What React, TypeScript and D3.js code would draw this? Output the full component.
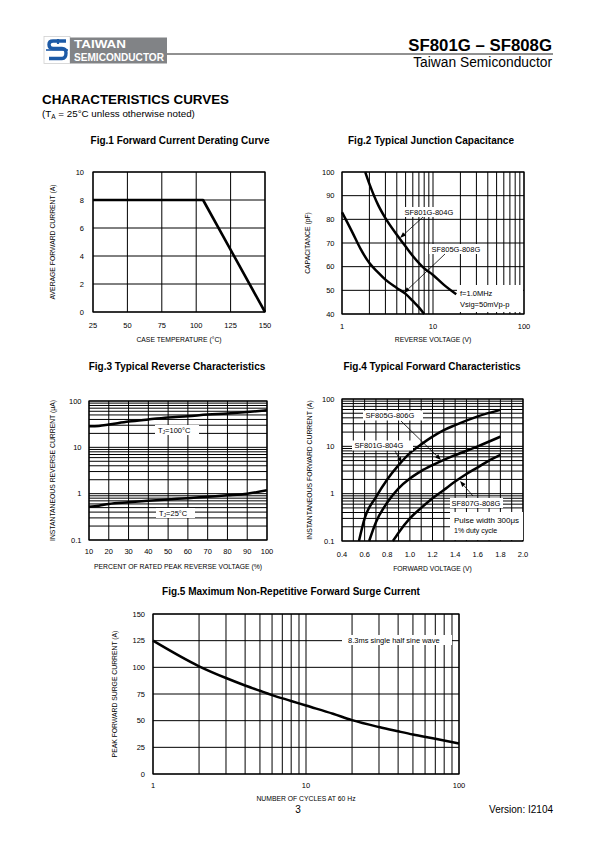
import React from 'react';
import * as d3 from 'd3';

const FONT = "'Liberation Sans', Arial, Helvetica, sans-serif";

// ---------- Fig.1 data ----------
const fig1TempTicks = [25, 50, 75, 100, 125, 150];
const fig1CurrentTicks = [0, 2, 4, 6, 8, 10];
const fig1Temp = [25, 105, 150];
const fig1Current = [8, 8, 0];

// ---------- Fig.2 data ----------
const fig2VoltTicks = [1, 10, 100];
const fig2CapTicks = [40, 50, 60, 70, 80, 90, 100];
const fig2VoltA = [1.8, 2, 2.5, 3, 4, 5, 6, 8, 10, 13, 18];
const fig2CapA = [100, 95, 86, 80.5, 73.5, 68.5, 64.5, 59.3, 56.5, 52.5, 48.3];
const fig2VoltB = [1, 1.3, 1.6, 2, 2.5, 3, 4, 5, 6, 7, 8];
const fig2CapB = [83, 74.5, 67.5, 61.5, 57.5, 54.5, 51, 48.5, 45.5, 42.8, 40];

// ---------- Fig.3 data ----------
const fig3PctTicks = [10, 20, 30, 40, 50, 60, 70, 80, 90, 100];
const fig3CurTicks = [0.1, 1, 10, 100];
const fig3Pct = [10, 15, 20, 30, 40, 50, 60, 70, 80, 90, 100];
const fig3Cur100 = [28.5, 29, 31, 36, 40, 44, 47, 51, 54, 58, 63];
const fig3Cur25 = [0.52, 0.55, 0.6, 0.65, 0.7, 0.75, 0.8, 0.86, 0.92, 1.0, 1.18];

// ---------- Fig.4 data ----------
const fig4VoltTicks = [0.4, 0.6, 0.8, 1.0, 1.2, 1.4, 1.6, 1.8, 2.0];
const fig4CurTicks = [0.1, 1, 10, 100];
const fig4VoltA = [0.55, 0.6, 0.7, 0.8, 0.9, 1.0, 1.1, 1.2, 1.3, 1.4, 1.6, 1.8];
const fig4CurA = [0.1, 0.3, 0.85, 2.0, 4.0, 7.2, 11, 16, 22, 28, 43, 59];
const fig4VoltB = [0.64, 0.7, 0.8, 0.9, 1.0, 1.1, 1.2, 1.3, 1.4, 1.6, 1.8];
const fig4CurB = [0.1, 0.25, 0.65, 1.3, 2.1, 3.0, 4.0, 5.2, 6.5, 10, 16];
const fig4VoltC = [0.85, 0.9, 1.0, 1.1, 1.2, 1.3, 1.4, 1.5, 1.6, 1.7, 1.8];
const fig4CurC = [0.1, 0.15, 0.3, 0.5, 0.8, 1.2, 1.8, 2.6, 3.6, 5, 6.6];

// ---------- Fig.5 data ----------
const fig5CycleTicks = [1, 10, 100];
const fig5SurgeTicks = [0, 25, 50, 75, 100, 125, 150];
const fig5Cycles = [1, 2, 3, 4, 5, 6, 8, 10, 15, 20, 30, 40, 50, 70, 100];
const fig5Surge = [125, 101, 90, 83, 78, 74, 68.5, 64.2, 56.5, 50.5, 44, 40, 37, 33, 28.5];

type Pt = [number, number];
const zip = (a: number[], b: number[]): Pt[] => a.map((v, i) => [v, b[i]] as Pt);

function logGrid(lo: number, hi: number): number[] {
  const out: number[] = [];
  for (let d = lo; d < hi * 0.999; d *= 10) {
    for (let k = 1; k < 10; k++) out.push(d * k);
  }
  out.push(hi);
  return out;
}

type Frame = { left: number; top: number; width: number; height: number };

function Grid({ f, xs, ys, xGrid, yGrid }: { f: Frame; xs: any; ys: any; xGrid: number[]; yGrid: number[] }) {
  return (
    <g>
      {xGrid.map((v, i) => (
        <line key={'x' + i} x1={xs(v)} x2={xs(v)} y1={f.top} y2={f.top + f.height} stroke="#000" strokeWidth={1} />
      ))}
      {yGrid.map((v, i) => (
        <line key={'y' + i} x1={f.left} x2={f.left + f.width} y1={ys(v)} y2={ys(v)} stroke="#000" strokeWidth={1} />
      ))}
      <rect x={f.left} y={f.top} width={f.width} height={f.height} fill="none" stroke="#000" strokeWidth={1.2} />
    </g>
  );
}

function Axes({
  f, xs, ys, xTicks, yTicks, xFmt, yFmt, xLabelDy, yLabelDx, xTitle, yTitle, xTitleDy, yTitleDx, title, titleY, titleX,
}: any) {
  return (
    <g fontFamily={FONT} fill="#000">
      {xTicks.map((v: number, i: number) => (
        <text key={'xt' + i} x={xs(v)} y={f.top + f.height + xLabelDy} fontSize={7.5} textAnchor="middle">
          {xFmt(v)}
        </text>
      ))}
      {yTicks.map((v: number, i: number) => (
        <text key={'yt' + i} x={f.left - yLabelDx} y={ys(v)} dy="0.35em" fontSize={7.5} textAnchor="end">
          {yFmt(v)}
        </text>
      ))}
      <text x={f.left + f.width / 2} y={f.top + f.height + xTitleDy} fontSize={6.8} textAnchor="middle">
        {xTitle}
      </text>
      <text
        transform={`translate(${f.left - yTitleDx},${f.top + f.height / 2}) rotate(-90)`}
        fontSize={6.8}
        textAnchor="middle"
        dy="0.35em"
      >
        {yTitle}
      </text>
      <text x={titleX} y={titleY} fontSize={10} fontWeight="bold" textAnchor="middle">
        {title}
      </text>
    </g>
  );
}

function Curve({ pts, xs, ys, w = 2.5, linear = false }: { pts: Pt[]; xs: any; ys: any; w?: number; linear?: boolean }) {
  const gen = d3
    .line<Pt>()
    .x((d) => xs(d[0]))
    .y((d) => ys(d[1]))
    .curve(linear ? d3.curveLinear : d3.curveMonotoneX);
  return <path d={gen(pts) || ''} fill="none" stroke="#000" strokeWidth={w} strokeLinejoin="round" />;
}

function LabelBox({ x, y, w, h, lines }: { x: number; y: number; w: number; h: number; lines: { t: any; dy: number; dx?: number; size?: number }[] }) {
  return (
    <g fontFamily={FONT}>
      <rect x={x} y={y} width={w} height={h} fill="#fff" />
      {lines.map((l, i) => (
        <text key={i} x={x + (l.dx ?? 3)} y={y + l.dy} fontSize={l.size ?? 7.5}>
          {l.t}
        </text>
      ))}
    </g>
  );
}

function Arrow({ x1, y1, x2, y2 }: { x1: number; y1: number; x2: number; y2: number }) {
  const ang = Math.atan2(y2 - y1, x2 - x1);
  const L = 6;
  const W = 2.2;
  const bx = x2 - L * Math.cos(ang);
  const by = y2 - L * Math.sin(ang);
  const px = -Math.sin(ang) * W;
  const py = Math.cos(ang) * W;
  return (
    <g>
      <line x1={x1} y1={y1} x2={bx} y2={by} stroke="#000" strokeWidth={0.8} />
      <polygon points={`${x2},${y2} ${bx + px},${by + py} ${bx - px},${by - py}`} fill="#000" />
    </g>
  );
}

export default function App() {
  // Fig.1
  const f1: Frame = { left: 93, top: 172, width: 172, height: 140 };
  const x1 = d3.scaleLinear().domain([25, 150]).range([f1.left, f1.left + f1.width]);
  const y1 = d3.scaleLinear().domain([0, 10]).range([f1.top + f1.height, f1.top]);

  // Fig.2
  const f2: Frame = { left: 342, top: 172, width: 182, height: 142 };
  const x2 = d3.scaleLog().domain([1, 100]).range([f2.left, f2.left + f2.width]);
  const y2 = d3.scaleLinear().domain([40, 100]).range([f2.top + f2.height, f2.top]);

  // Fig.3
  const f3: Frame = { left: 89, top: 401, width: 178, height: 139 };
  const x3 = d3.scaleLinear().domain([10, 100]).range([f3.left, f3.left + f3.width]);
  const y3 = d3.scaleLog().domain([0.1, 100]).range([f3.top + f3.height, f3.top]);

  // Fig.4
  const f4: Frame = { left: 342, top: 399, width: 181, height: 142 };
  const x4 = d3.scaleLinear().domain([0.4, 2.0]).range([f4.left, f4.left + f4.width]);
  const y4 = d3.scaleLog().domain([0.1, 100]).range([f4.top + f4.height, f4.top]);

  // Fig.5
  const f5: Frame = { left: 153, top: 614, width: 306, height: 160 };
  const x5 = d3.scaleLog().domain([1, 100]).range([f5.left, f5.left + f5.width]);
  const y5 = d3.scaleLinear().domain([0, 150]).range([f5.top + f5.height, f5.top]);

  const fmtPlain = (v: number) => String(v);
  const fmt1 = (v: number) => v.toFixed(1);

  const fig4Grid = d3.range(0.4, 2.0001, 0.1);

  return (
    <svg
      width={595}
      height={842}
      viewBox="0 0 595 842"
      style={{ position: 'absolute', left: 0, top: 0, background: '#fff' }}
      fontFamily={FONT}
    >
      <rect x={0} y={0} width={595} height={842} fill="#fff" />

      {/* Header */}
      <rect x={44} y={36.5} width={26} height={27} fill="#fff" stroke="#d0d0d0" strokeWidth={0.8} />
      <g fill="none" stroke="#1d5aa6" strokeWidth={3.4} strokeLinecap="butt">
        <path d="M 66 41 H 53 Q 49 41 49 44.5 Q 49 48.5 53 48.5 H 62 Q 66 48.5 66 53 Q 66 58.5 62 58.5 H 49" />
        <path d="M 46 50 H 68" strokeWidth={1.6} />
        <path d="M 58 39 V 44" strokeWidth={2.2} />
      </g>
      <rect x={70} y={37.5} width={97} height={26} fill="#818386" />
      <text x={74} y={48.3} fill="#fff" fontSize={11.5} fontWeight="bold" textLength={52} lengthAdjust="spacingAndGlyphs">
        TAIWAN
      </text>
      <text x={74} y={61} fill="#fff" fontSize={11.5} fontWeight="bold" textLength={90} lengthAdjust="spacingAndGlyphs">
        SEMICONDUCTOR
      </text>
      <line x1={167} x2={553} y1={54} y2={54} stroke="#222" strokeWidth={1} />
      <text x={552} y={51} fontSize={16.8} fontWeight="bold" textAnchor="end">
        SF801G – SF808G
      </text>
      <text x={552} y={66.5} fontSize={13.8} textAnchor="end">
        Taiwan Semiconductor
      </text>

      <text x={42} y={104} fontSize={12} fontWeight="900" textLength={187} lengthAdjust="spacingAndGlyphs">
        CHARACTERISTICS CURVES
      </text>
      <text x={42} y={117} fontSize={9.8}>
        (T<tspan fontSize={6.5} dy={1.5}>A</tspan>
        <tspan dy={-1.5}> = 25°C unless otherwise noted)</tspan>
      </text>

      {/* Fig.1 */}
      <Grid f={f1} xs={x1} ys={y1} xGrid={fig1TempTicks} yGrid={fig1CurrentTicks} />
      <Curve pts={zip(fig1Temp, fig1Current)} xs={x1} ys={y1} w={2.6} linear />
      <Axes
        f={f1} xs={x1} ys={y1} xTicks={fig1TempTicks} yTicks={fig1CurrentTicks}
        xFmt={fmtPlain} yFmt={fmtPlain} xLabelDy={15.5} yLabelDx={9}
        xTitle="CASE TEMPERATURE (°C)" yTitle="AVERAGE FORWARD CURRENT (A)"
        xTitleDy={30} yTitleDx={40}
        title="Fig.1 Forward Current Derating Curve" titleX={180} titleY={144}
      />

      {/* Fig.2 */}
      <Grid f={f2} xs={x2} ys={y2} xGrid={logGrid(1, 100)} yGrid={fig2CapTicks} />
      <LabelBox x={457} y={285} w={66} h={27} lines={[
        { t: 'f=1.0MHz', dy: 11, dx: 3 },
        { t: 'Vsig=50mVp-p', dy: 21.5, dx: 3 },
      ]} />
      <Curve pts={zip(fig2VoltA, fig2CapA)} xs={x2} ys={y2} />
      <Curve pts={zip(fig2VoltB, fig2CapB)} xs={x2} ys={y2} />
      <LabelBox x={402} y={207} w={57} h={10} lines={[{ t: 'SF801G-804G', dy: 7.7, dx: 2.5 }]} />
      <LabelBox x={429} y={244} w={58} h={10} lines={[{ t: 'SF805G-808G', dy: 7.7, dx: 2.5 }]} />
      <Arrow x1={423} y1={217} x2={400} y2={238} />
      <Arrow x1={445} y1={254} x2={404} y2={293} />
      <Axes
        f={f2} xs={x2} ys={y2} xTicks={fig2VoltTicks} yTicks={fig2CapTicks}
        xFmt={fmtPlain} yFmt={fmtPlain} xLabelDy={15} yLabelDx={7.5}
        xTitle="REVERSE VOLTAGE (V)" yTitle="CAPACITANCE (pF)"
        xTitleDy={28} yTitleDx={34}
        title="Fig.2 Typical Junction Capacitance" titleX={431} titleY={144}
      />

      {/* Fig.3 */}
      <Grid f={f3} xs={x3} ys={y3} xGrid={fig3PctTicks} yGrid={logGrid(0.1, 100)} />
      <LabelBox x={155} y={425} w={44} h={10} lines={[
        { t: <>T<tspan fontSize={5} dy={1.5}>J</tspan><tspan dy={-1.5}>=100°C</tspan></>, dy: 7.7, dx: 3 },
      ]} />
      <LabelBox x={156} y={508} w={39} h={10} lines={[
        { t: <>T<tspan fontSize={5} dy={1.5}>J</tspan><tspan dy={-1.5}>=25°C</tspan></>, dy: 7.7, dx: 3 },
      ]} />
      <Curve pts={zip(fig3Pct, fig3Cur100)} xs={x3} ys={y3} />
      <Curve pts={zip(fig3Pct, fig3Cur25)} xs={x3} ys={y3} />
      <Axes
        f={f3} xs={x3} ys={y3} xTicks={fig3PctTicks} yTicks={fig3CurTicks}
        xFmt={fmtPlain} yFmt={fmtPlain} xLabelDy={14} yLabelDx={7.5}
        xTitle="PERCENT OF RATED PEAK REVERSE VOLTAGE (%)" yTitle="INSTANTANEOUS REVERSE CURRENT (μA)"
        xTitleDy={29} yTitleDx={36}
        title="Fig.3 Typical Reverse Characteristics" titleX={177} titleY={370}
      />

      {/* Fig.4 */}
      <Grid f={f4} xs={x4} ys={y4} xGrid={fig4Grid} yGrid={logGrid(0.1, 100)} />
      <LabelBox x={450} y={512} w={73} h={28} lines={[
        { t: 'Pulse width 300μs', dy: 10.5, dx: 4, size: 8 },
        { t: '1% duty cycle', dy: 20.5, dx: 4, size: 7 },
      ]} />
      <Curve pts={zip(fig4VoltA, fig4CurA)} xs={x4} ys={y4} />
      <Curve pts={zip(fig4VoltB, fig4CurB)} xs={x4} ys={y4} />
      <Curve pts={zip(fig4VoltC, fig4CurC)} xs={x4} ys={y4} />
      <LabelBox x={363} y={410.5} w={60} h={10} lines={[{ t: 'SF805G-806G', dy: 7.7, dx: 2.5 }]} />
      <LabelBox x={352} y={440.5} w={61} h={10} lines={[{ t: 'SF801G-804G', dy: 7.7, dx: 2.5 }]} />
      <LabelBox x={450} y={498} w={53} h={10} lines={[{ t: 'SF807G-808G', dy: 7.7, dx: 1.5 }]} />
      <Arrow x1={401} y1={421} x2={441} y2={460} />
      <Arrow x1={395} y1={451} x2={402} y2={463} />
      <Arrow x1={473} y1={496} x2={460} y2={481} />
      <Axes
        f={f4} xs={x4} ys={y4} xTicks={fig4VoltTicks} yTicks={fig4CurTicks}
        xFmt={fmt1} yFmt={fmtPlain} xLabelDy={16} yLabelDx={7.5}
        xTitle="FORWARD VOLTAGE (V)" yTitle="INSTANTANEOUS FORWARD CURRENT (A)"
        xTitleDy={30} yTitleDx={32}
        title="Fig.4 Typical Forward Characteristics" titleX={432} titleY={370}
      />

      {/* Fig.5 */}
      <Grid f={f5} xs={x5} ys={y5} xGrid={logGrid(1, 100)} yGrid={fig5SurgeTicks} />
      <LabelBox x={342} y={635} w={110} h={10} lines={[{ t: '8.3ms single half sine wave', dy: 7.7, dx: 6 }]} />
      <Curve pts={zip(fig5Cycles, fig5Surge)} xs={x5} ys={y5} />
      <Axes
        f={f5} xs={x5} ys={y5} xTicks={fig5CycleTicks} yTicks={fig5SurgeTicks}
        xFmt={fmtPlain} yFmt={fmtPlain} xLabelDy={13.5} yLabelDx={8}
        xTitle="NUMBER OF CYCLES AT 60 Hz" yTitle="PEAK FORWARD SURGE CURRENT (A)"
        xTitleDy={27} yTitleDx={38}
        title="Fig.5 Maximum Non-Repetitive Forward Surge Current" titleX={291} titleY={595}
      />

      {/* Footer */}
      <text x={298} y={813} fontSize={10} textAnchor="middle">3</text>
      <text x={553} y={813} fontSize={10} textAnchor="end">Version: I2104</text>
    </svg>
  );
}
